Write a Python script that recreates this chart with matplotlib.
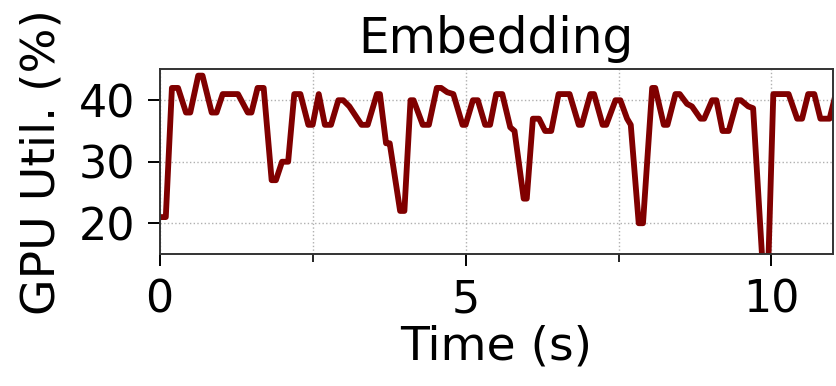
import matplotlib
matplotlib.use("Agg")
import matplotlib.pyplot as plt
from matplotlib.ticker import MultipleLocator

# GPU utilisation trace
time_s = [0.0, 0.1, 0.2, 0.3, 0.43, 0.5, 0.63, 0.7, 0.85, 0.93, 1.03, 1.28, 1.44, 1.5,
          1.6, 1.7, 1.83, 1.9, 2.0, 2.1, 2.2, 2.3, 2.43, 2.5, 2.6, 2.7, 2.8, 2.92, 3.0,
          3.1, 3.3, 3.4, 3.55, 3.6, 3.7, 3.76, 3.93, 4.0, 4.1, 4.15, 4.3, 4.4, 4.53, 4.6,
          4.7, 4.8, 4.95, 5.0, 5.12, 5.2, 5.32, 5.4, 5.5, 5.6, 5.73, 5.8, 5.95, 6.0, 6.1,
          6.2, 6.3, 6.4, 6.52, 6.7, 6.85, 6.9, 7.04, 7.1, 7.24, 7.3, 7.45, 7.53, 7.64,
          7.7, 7.83, 7.9, 8.05, 8.1, 8.24, 8.3, 8.43, 8.5, 8.62, 8.7, 8.84, 8.9, 9.03,
          9.1, 9.2, 9.3, 9.44, 9.5, 9.62, 9.7, 9.85, 9.95, 10.03, 10.28, 10.42, 10.5,
          10.6, 10.7, 10.8, 10.95, 11.05]
gpu_util = [21, 21, 42, 42, 38, 38, 44, 44, 38, 38, 41, 41, 38, 38,
            42, 42, 27, 27, 30, 30, 41, 41, 36, 36, 41, 36, 36, 40, 40,
            39, 36, 36, 41, 41, 33, 33, 22, 22, 40, 40, 36, 36, 42, 42,
            41.3, 41, 36, 36, 40, 40, 36, 36, 41, 41, 35.6, 35, 24, 24, 37,
            37, 35, 35, 41, 41, 36, 36, 41, 41, 36, 36, 40, 40, 37,
            36, 20, 20, 42, 42, 36, 36, 41, 41, 39.4, 39, 37, 37, 40,
            40, 35, 35, 40, 40, 39, 38.7, 14, 14, 41, 41, 37, 37,
            41, 41, 37, 37, 41]

fig = plt.figure(figsize=(8.36, 3.86), dpi=100)
ax = fig.add_axes([0.191, 0.342, 0.805, 0.478])

ax.plot(time_s, gpu_util, color="#800000", linewidth=4.2)

ax.set_xlim(0, 11)
ax.set_ylim(15, 45)
ax.xaxis.set_major_locator(MultipleLocator(5))
ax.xaxis.set_minor_locator(MultipleLocator(2.5))
ax.yaxis.set_major_locator(MultipleLocator(10))
ax.grid(True, which="both", axis="x", linestyle=":", color="#b0b0b0", linewidth=1)
ax.grid(True, which="major", axis="y", linestyle=":", color="#b0b0b0", linewidth=1)

ax.tick_params(axis="both", which="major", labelsize=32, length=8.5, width=1.4, pad=9)
ax.tick_params(axis="x", which="minor", length=5.5, width=1.2)
for sp in ax.spines.values():
    sp.set_color("#333333")
    sp.set_linewidth(1.4)

ax.set_title("Embedding", fontsize=35, pad=12)
ax.set_xlabel("Time (s)", fontsize=34, labelpad=2)
ax.set_ylabel("GPU Util. (%)", fontsize=34, labelpad=10)

fig.savefig("out.png", dpi=100)
